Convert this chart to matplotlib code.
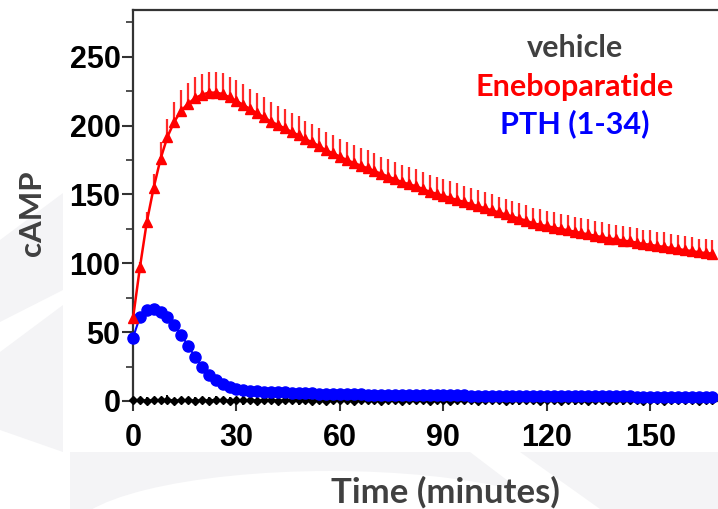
import numpy as np
import matplotlib
matplotlib.use("Agg")
import matplotlib.pyplot as plt
from matplotlib.patches import Polygon, Ellipse, Rectangle
from matplotlib.ticker import MultipleLocator

# --- data ---
time_min = np.arange(0, 170, 2)

eneboparatide = [60, 97, 130, 155, 176, 192, 203, 211, 216, 220,
                 222.5, 224, 224, 223, 220.5, 218, 215, 212, 209, 206,
                 203, 200.5, 198, 195.5, 193, 190, 188, 185, 182, 180,
                 177.5, 175, 173, 171, 169, 167, 165, 163, 161, 159,
                 157.5, 156, 154, 152, 150.5, 149, 147.5, 146, 144.5, 143,
                 141.5, 140, 138.5, 137, 135.5, 134, 132.5, 131, 129, 128,
                 127, 126, 125, 124, 123, 122, 121, 120, 119, 118,
                 117.5, 116.5, 116, 115, 114, 113.5, 112.5, 112, 111, 110.5,
                 109.5, 109, 108, 107.5, 107]
eneboparatide_err = [0, 4, 7, 10, 12, 13, 14, 15, 15, 15,
                     15, 15, 15, 15, 15, 15, 15, 14.5, 14.5, 14.5,
                     14, 14, 14, 14, 14, 13.5, 13.5, 13.5, 13.5, 13.5,
                     13, 13, 13, 13, 13, 13, 12.5, 12.5, 12.5, 12.5,
                     12.5, 12.5, 12.5, 12, 12, 12, 12, 12, 12, 12,
                     12, 12, 11.5, 11.5, 11.5, 11.5, 11.5, 11.5, 11.5, 11.5,
                     11, 11, 11, 11, 11, 11, 11, 11, 11, 10.5,
                     10.5, 10.5, 10.5, 10.5, 10.5, 10.5, 10.5, 10.5, 10.5, 10,
                     10, 10, 10, 10, 10]
pth = [46, 61, 66, 67, 65, 61, 55, 48, 40, 32,
       25, 19, 15, 12, 10, 9, 8.2, 7.6, 7.2, 6.9,
       6.6, 6.4, 6.2, 6.0, 5.8, 5.6, 5.5, 5.4, 5.3, 5.2,
       5.1, 5.0, 4.9, 4.8, 4.7, 4.7, 4.6, 4.5, 4.5, 4.4,
       4.4, 4.3, 4.3, 4.2, 4.2, 4.1, 4.1, 4.0, 4.0, 3.9,
       3.9, 3.9, 3.8, 3.8, 3.8, 3.7, 3.7, 3.7, 3.6, 3.6,
       3.6, 3.5, 3.5, 3.5, 3.5, 3.4, 3.4, 3.4, 3.4, 3.3,
       3.3, 3.3, 3.3, 3.2, 3.2, 3.2, 3.2, 3.1, 3.1, 3.1,
       3.1, 3.0, 3.0, 3.0, 3.0]
vehicle = [0.5, 0.9, 0.2, 0.7, 0.4, 1.0, 0.3, 0.6, 0.8, 0.1,
           0.6, 0.3, 0.9, 0.5, 0.2, 0.7, 0.4, 0.8, 0.3, 0.6,
           0.9, 0.2, 0.5, 0.7, 0.4, 0.8, 0.3, 0.6, 0.1, 0.7,
           0.5, 0.9, 0.3, 0.6, 0.4, 0.8, 0.2, 0.7, 0.5, 0.3,
           0.9, 0.4, 0.6, 0.2, 0.8, 0.5, 0.3, 0.7, 0.4, 0.9,
           0.2, 0.6, 0.5, 0.8, 0.3, 0.7, 0.4, 0.6, 0.9, 0.2,
           0.5, 0.8, 0.3, 0.7, 0.4, 0.6, 0.2, 0.9, 0.5, 0.3,
           0.7, 0.4, 0.8, 0.6, 0.2, 0.5, 0.9, 0.3, 0.7, 0.4,
           0.6, 0.8, 0.3, 0.5, 0.7]
vehicle_err = [2.5, 2, 3, 2, 2.5, 3, 2, 2.5, 2, 3,
               2, 2.5, 3, 2, 2.5, 2, 3, 2, 2.5, 2,
               3, 2, 2.5, 2, 3, 2.5, 2, 3, 2, 2.5,
               2, 3, 2.5, 2, 2, 3, 2.5, 2, 3, 2,
               2.5, 2, 3, 2, 2.5, 3, 2, 2.5, 2, 3,
               2, 2.5, 2, 3, 2, 2.5, 3, 2, 2.5, 2,
               3, 2, 2.5, 2, 3, 2.5, 2, 3, 2, 2.5,
               2, 3, 2, 2.5, 2, 3, 2.5, 2, 3, 2,
               2.5, 2, 3, 2, 2.5]

legend_labels = ["vehicle", "Eneboparatide", "PTH (1-34)"]
legend_colors = ["#404040", "#ff0000", "#0000ff"]

W, H = 718, 509
fig = plt.figure(figsize=(W / 100, H / 100), dpi=100)

# faint slide watermark behind the chart image
bg = fig.add_axes([0, 0, 1, 1], zorder=-10)
bg.set_xlim(0, W)
bg.set_ylim(H, 0)
bg.axis("off")
wm = "#f4f4f6"
bg.add_patch(Polygon([(0, 240), (63, 193), (63, 290), (0, 322)], color=wm, lw=0))
bg.add_patch(Polygon([(0, 352), (63, 305), (63, 452), (0, 430)], color=wm, lw=0))
bg.add_patch(Rectangle((70, 452), W - 70, H - 452, color=wm, lw=0))
bg.add_patch(Ellipse((330, 535), 520, 128, color="white", lw=0))
bg.add_patch(Polygon([(470, 452), (520, 452), (600, 509), (545, 509)], color="white", lw=0))
bg.add_patch(Rectangle((63, 0), W - 63, 452, color="white", lw=0))

# main chart
ax = fig.add_axes([133 / W, (H - 401) / H, 1 - 133 / W, (401 - 10) / H])
ax.set_facecolor("none")

ax.errorbar(time_min, vehicle, yerr=vehicle_err, fmt="D-", color="black",
            ms=4, lw=1.5, elinewidth=1.4, capsize=0, clip_on=False, zorder=3)
ax.plot(time_min, pth, "o-", color="#0000ff", ms=8, lw=1.5,
        clip_on=False, zorder=4)
ax.errorbar(time_min, eneboparatide,
            yerr=[np.zeros(len(eneboparatide_err)), eneboparatide_err],
            fmt="^-", color="#ff0000", ecolor="#ff2a2a", ms=7, lw=1.8,
            elinewidth=1.6, capsize=0, clip_on=False, zorder=5)

ax.set_xlim(0, 169.6)
ax.set_ylim(0, 284)
ax.set_xticks([0, 30, 60, 90, 120, 150])
ax.yaxis.set_major_locator(MultipleLocator(50))
ax.yaxis.set_minor_locator(MultipleLocator(25))

for s in ["left", "top", "bottom"]:
    ax.spines[s].set_linewidth(1.6)
    ax.spines[s].set_color("#333333")
ax.spines["right"].set_visible(False)

ax.tick_params(axis="y", which="major", length=8, width=1.5, color="#333333", pad=1)
ax.tick_params(axis="y", which="minor", length=5, width=1.2, color="#333333")
ax.tick_params(axis="x", which="major", length=7, width=1.5, color="#333333", pad=9)
for lab in ax.get_xticklabels() + ax.get_yticklabels():
    lab.set_family("Liberation Sans")
    lab.set_weight("bold")
    lab.set_size(22)
    lab.set_color("black")

# axis titles (slide text)
fig.text(32 / W, 1 - 213 / H, "cAMP", rotation=90, ha="center", va="center",
         family="Lato", weight="bold", size=22.5, color="#404040")
fig.text(445 / W, 1 - 503 / H, "Time (minutes)", ha="center", va="baseline",
         family="Lato", weight="bold", size=25, color="#404040")

# legend text
for lab, col, yb in zip(legend_labels, legend_colors, [57, 96, 133]):
    fig.text(575 / W, 1 - yb / H, lab, ha="center", va="baseline",
             family="Lato", weight="bold", size=22, color=col)

fig.savefig("out.png", dpi=100)
